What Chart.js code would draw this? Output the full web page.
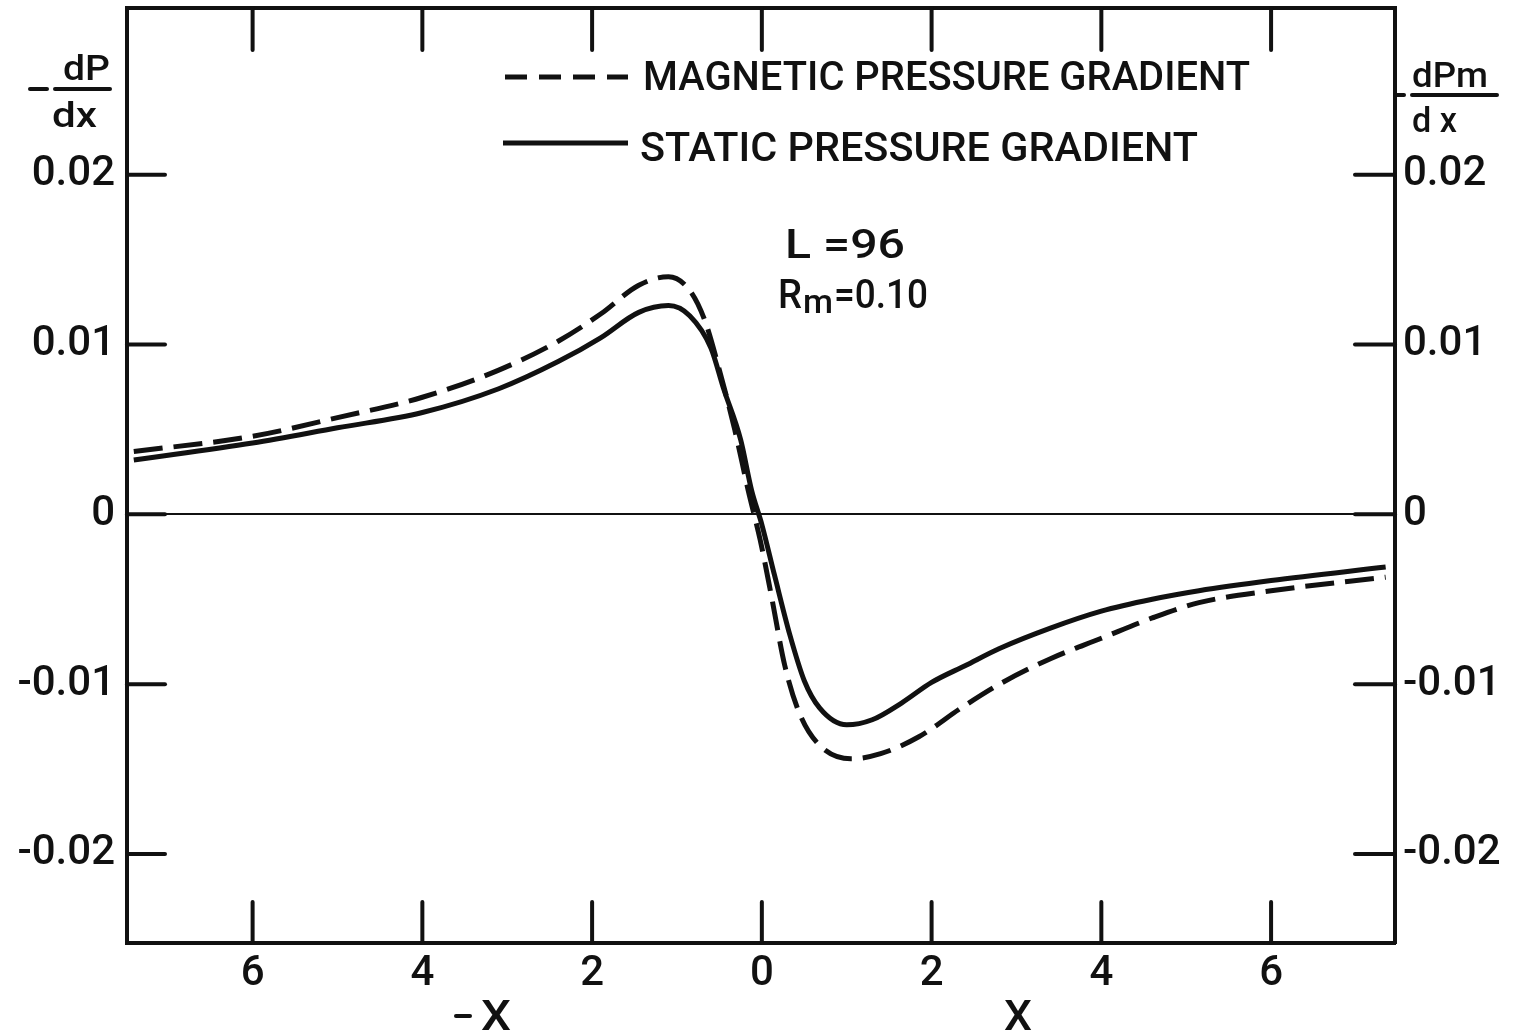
<!DOCTYPE html>
<html>
<head>
<meta charset="utf-8">
<script src="https://cdn.jsdelivr.net/npm/chart.js@4.4.1/dist/chart.umd.min.js"></script>
<style>
  html, body { margin: 0; padding: 0; background: #ffffff; }
  canvas { display: block; }
</style>
</head>
<body>
<canvas id="chart" width="1518" height="1033"></canvas>
<script>
// Static pressure gradient  -dP/dx  (solid curve)
const xStatic = [-7.4, -6.0, -5.0, -4.0, -3.1, -2.4, -1.9, -1.45, -1.1, -0.85, -0.6, -0.45, -0.25, -0.12, 0.0,
                 0.15, 0.33, 0.5, 0.68, 1.0, 1.3, 1.65, 2.0, 2.4, 2.8, 3.4, 4.0, 4.6, 5.15, 6.0, 7.35];
const staticGradient = [0.0032, 0.0042, 0.0051, 0.0060, 0.0074, 0.0090, 0.0104, 0.0119, 0.0123, 0.0117, 0.0098, 0.0074, 0.0044, 0.0014, -0.0006,
                        -0.0036, -0.0071, -0.0098, -0.0114, -0.0124, -0.0121, -0.0111, -0.0099, -0.0089, -0.0079, -0.0067, -0.0057, -0.0050, -0.0045, -0.0039, -0.0031];

// Magnetic pressure gradient  -dPm/dx  (dashed curve)
const xMagnetic = [-7.4, -6.0, -5.0, -4.0, -3.1, -2.4, -1.9, -1.45, -1.1, -0.85, -0.67, -0.5, -0.32, -0.16, -0.02,
                   0.12, 0.27, 0.45, 0.68, 1.05, 1.4, 1.85, 2.35, 2.8, 3.4, 4.0, 4.6, 5.15, 6.0, 7.35];
const magneticGradient = [0.0037, 0.0046, 0.0057, 0.0069, 0.0085, 0.0102, 0.0118, 0.0135, 0.0140, 0.0132, 0.0114, 0.0085, 0.0050, 0.0014, -0.0015,
                          -0.0050, -0.0089, -0.0118, -0.0136, -0.0144, -0.0141, -0.0131, -0.0114, -0.0100, -0.0085, -0.0073, -0.0061, -0.0052, -0.0045, -0.0037];

const seriesLabels = ['MAGNETIC PRESSURE GRADIENT', 'STATIC PRESSURE GRADIENT'];

const xTickValues = [-6, -4, -2, 0, 2, 4, 6];
const xTickLabels = ['6', '4', '2', '0', '2', '4', '6'];
const yTickValues = [-0.02, -0.01, 0, 0.01, 0.02];
const yTickLabels = ['-0.02', '-0.01', '0', '0.01', '0.02'];

const X_MIN = -7.48, X_MAX = 7.46;
const Y_MIN = -0.02525, Y_MAX = 0.02983;

const INK = '#111111';
const FONT = 'Roboto, "Liberation Sans", sans-serif';

function toPoints(xs, ys) {
  return xs.map((x, i) => ({ x: x, y: ys[i] }));
}

function drawFitted(ctx, text, x, y, width) {
  const w = ctx.measureText(text).width;
  ctx.save();
  ctx.translate(x, y);
  ctx.scale(width / w, 1);
  ctx.textAlign = 'left';
  ctx.fillText(text, 0, 0);
  ctx.restore();
}

// Inward tick marks, legend, axis titles and parameter note
const figureDecor = {
  id: 'figureDecor',
  afterDraw(chart) {
    const { ctx, chartArea: a, scales } = chart;
    const seg = (x1, y1, x2, y2) => { ctx.beginPath(); ctx.moveTo(x1, y1); ctx.lineTo(x2, y2); ctx.stroke(); };
    ctx.save();
    ctx.strokeStyle = INK;
    ctx.fillStyle = INK;
    ctx.lineCap = 'round';
    ctx.lineWidth = 4;

    xTickValues.forEach(v => {
      const px = scales.x.getPixelForValue(v);
      seg(px, a.bottom, px, a.bottom - 41);
      seg(px, a.top, px, a.top + 42);
    });
    yTickValues.forEach(v => {
      const py = scales.y.getPixelForValue(v);
      seg(a.left, py, a.left + 38, py);
      seg(a.right, py, a.right - 40, py);
    });

    // legend
    const ds = chart.data.datasets;
    ctx.lineWidth = 5;
    ctx.lineCap = 'butt';
    ctx.setLineDash([22, 12]);
    seg(505, 77, 628, 77);
    ctx.setLineDash([]);
    seg(503, 143, 628, 143);
    ctx.textBaseline = 'alphabetic';
    ctx.font = '500 40px ' + FONT;
    drawFitted(ctx, ds[0].label, 643, 90, 607);
    drawFitted(ctx, ds[1].label, 640, 161, 558);

    // parameter note
    drawFitted(ctx, 'L =96', 785, 258, 120);
    drawFitted(ctx, 'R', 778, 308, 24);
    ctx.font = '500 34px ' + FONT;
    drawFitted(ctx, 'm', 803, 313, 30);
    ctx.font = '500 40px ' + FONT;
    drawFitted(ctx, '=0.10', 834, 308, 94);

    // left axis title  -dP/dx
    ctx.lineWidth = 4;
    ctx.lineCap = 'round';
    seg(30, 89, 47, 89);
    seg(55, 89, 110, 89);
    ctx.font = '500 35px ' + FONT;
    drawFitted(ctx, 'dP', 63, 80, 47);
    drawFitted(ctx, 'dx', 52, 127, 45);

    // right axis title  -dPm/dx
    seg(a.right, 95, 1404, 95);
    seg(1412, 95, 1497, 95);
    drawFitted(ctx, 'dPm', 1412, 87, 76);
    drawFitted(ctx, 'd x', 1412, 132, 45);

    // x axis titles
    ctx.font = '500 42px ' + FONT;
    seg(456, 1016, 470, 1016);
    drawFitted(ctx, 'X', 481, 1030, 30);
    drawFitted(ctx, 'X', 1004, 1030, 28);
    ctx.restore();
  }
};

const tickFont = { family: FONT, size: 42, weight: '500' };

function fixHeight(h) {
  return s => { s.height = h; s.paddingLeft = 0; s.paddingRight = 0; };
}
function fixWidth(w) {
  return s => { s.width = w; s.paddingTop = 0; s.paddingBottom = 0; };
}

new Chart(document.getElementById('chart'), {
  type: 'scatter',
  data: {
    datasets: [
      {
        label: seriesLabels[0],
        data: toPoints(xMagnetic, magneticGradient),
        showLine: true,
        borderColor: INK,
        borderWidth: 5,
        borderDash: [29, 11],
        pointRadius: 0,
        cubicInterpolationMode: 'monotone',
        fill: false
      },
      {
        label: seriesLabels[1],
        data: toPoints(xStatic, staticGradient),
        showLine: true,
        borderColor: INK,
        borderWidth: 5,
        pointRadius: 0,
        cubicInterpolationMode: 'monotone',
        fill: false
      }
    ]
  },
  options: {
    responsive: false,
    animation: false,
    devicePixelRatio: 1,
    layout: { padding: 0 },
    plugins: { legend: { display: false }, tooltip: { enabled: false } },
    scales: {
      x: {
        type: 'linear', position: 'bottom', min: X_MIN, max: X_MAX,
        afterBuildTicks: s => { s.ticks = xTickValues.map(v => ({ value: v })); },
        afterFit: fixHeight(90),
        ticks: { color: INK, font: tickFont, padding: 6, maxRotation: 0,
                 callback: v => xTickLabels[xTickValues.indexOf(v)] },
        grid: { drawOnChartArea: false, drawTicks: false },
        border: { display: true, color: INK, width: 4 }
      },
      xTop: {
        type: 'linear', position: 'top', min: X_MIN, max: X_MAX,
        afterFit: fixHeight(8),
        ticks: { display: false },
        grid: { drawOnChartArea: false, drawTicks: false },
        border: { display: true, color: INK, width: 4 }
      },
      y: {
        type: 'linear', position: 'left', min: Y_MIN, max: Y_MAX,
        afterBuildTicks: s => { s.ticks = yTickValues.map(v => ({ value: v })); },
        afterFit: fixWidth(127),
        ticks: { color: INK, font: tickFont, padding: 12,
                 callback: v => yTickLabels[yTickValues.indexOf(v)] },
        grid: {
          drawTicks: false,
          color: c => (c.tick && c.tick.value === 0 ? INK : 'rgba(0,0,0,0)'),
          lineWidth: c => (c.tick && c.tick.value === 0 ? 2 : 0)
        },
        border: { display: true, color: INK, width: 4 }
      },
      yRight: {
        type: 'linear', position: 'right', min: Y_MIN, max: Y_MAX,
        afterBuildTicks: s => { s.ticks = yTickValues.map(v => ({ value: v })); },
        afterFit: fixWidth(123),
        ticks: { color: INK, font: tickFont, padding: 8,
                 callback: v => yTickLabels[yTickValues.indexOf(v)] },
        grid: { drawOnChartArea: false, drawTicks: false },
        border: { display: true, color: INK, width: 4 }
      }
    }
  },
  plugins: [figureDecor]
});
</script>
</body>
</html>
